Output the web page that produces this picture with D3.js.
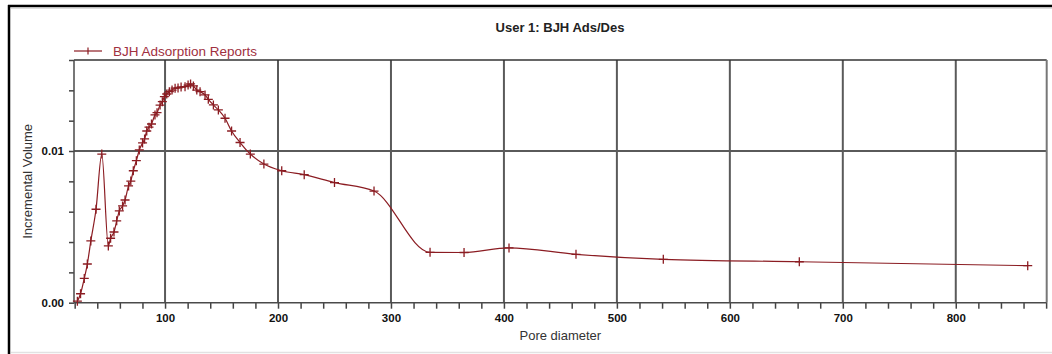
<!DOCTYPE html>
<html>
<head>
<meta charset="utf-8">
<script src="https://cdn.jsdelivr.net/npm/d3@7"></script>
<style>
  body { margin: 0; background: #fff; }
  svg { display: block; font-family: "Liberation Sans", Arial, sans-serif; }
</style>
</head>
<body>
<svg id="bjh-chart"></svg>
<script>
// values (pore diameter vs incremental volume)
var poreDiameter = [22.4, 25.2, 28.5, 31.2, 34.3, 38.9, 44.0, 49.8, 51.8, 54.8,
  57.2, 59.5, 62.4, 64.6, 67.7, 69.7, 71.9, 74.6, 77.2, 80.1,
  81.9, 83.8, 85.8, 88.0, 91.1, 92.9, 95.6, 97.6, 99.4, 101.5,
  103.8, 106.2, 108.9, 111.5, 114.2, 117.7, 120.4, 122.6, 125.1, 128.1,
  131.0, 135.4, 138.3, 142.8, 147.2, 153.1, 158.9, 166.4, 175.5, 187.5,
  203.3, 223.2, 250.0, 285.0, 334.6, 364.7, 404.5, 463.8, 541.1, 661.5,
  863.7];
var incVolume = [0.0001, 0.00059, 0.0016, 0.00255, 0.00407, 0.00616, 0.0098, 0.00374, 0.00425, 0.00466,
  0.0054, 0.00605, 0.00638, 0.00677, 0.0077, 0.00802, 0.0087, 0.00936, 0.01007, 0.01053,
  0.0108, 0.01132, 0.01157, 0.01178, 0.01238, 0.01253, 0.01303, 0.01325, 0.01358, 0.01376,
  0.01391, 0.01402, 0.01414, 0.01416, 0.01422, 0.01424, 0.01435, 0.01442, 0.01429, 0.01402,
  0.01391, 0.0137, 0.01341, 0.01304, 0.01271, 0.01216, 0.01132, 0.01056, 0.0098, 0.00914,
  0.0087, 0.00844, 0.00792, 0.00736, 0.00332, 0.00331, 0.00361, 0.00319, 0.00286, 0.0027,
  0.00244];
var xMajorTicks = [100, 200, 300, 400, 500, 600, 700, 800];
var yLabelTicks = [0, 0.01];
var seriesName = "BJH Adsorption Reports";
var chartTitle = "User 1: BJH Ads/Des";

var W = 1052, H = 354;
var margin = {top: 60, right: 5.3, bottom: 51.3, left: 74},
    width = W - margin.left - margin.right,
    height = H - margin.top - margin.bottom;
var lineColor = "#8b1c22";

var points = poreDiameter.map(function(d, i) { return {x: d, y: incVolume[i]}; });

var svg = d3.select("#bjh-chart")
    .attr("width", W)
    .attr("height", H);

// outer window frame
svg.append("path").attr("d", "M8,6H1052").attr("stroke", "#000").attr("stroke-width", 2.5);
svg.append("path").attr("d", "M9,5V354").attr("stroke", "#000").attr("stroke-width", 2.5);
svg.append("path").attr("d", "M11,8.5H1052").attr("stroke", "#ddd").attr("stroke-width", 1);
svg.append("path").attr("d", "M11,352.5H1052").attr("stroke", "#e2e2e2").attr("stroke-width", 1.5);

var g = svg.append("g")
    .attr("transform", "translate(" + margin.left + "," + margin.top + ")");

var x = d3.scaleLinear()
    .domain([19.4, 880.5])
    .range([0, width]);
var y = d3.scaleLinear()
    .domain([0, 0.016])
    .range([height, 0]);

// grid lines
g.selectAll(".vgrid")
    .data(xMajorTicks)
    .enter().append("line")
    .attr("x1", function(d) { return x(d); })
    .attr("x2", function(d) { return x(d); })
    .attr("y1", 0)
    .attr("y2", height)
    .attr("stroke", "#5a5a5a")
    .attr("stroke-width", 2);
g.append("line")
    .attr("x1", 0).attr("x2", width)
    .attr("y1", y(0.01)).attr("y2", y(0.01))
    .attr("stroke", "#5a5a5a")
    .attr("stroke-width", 2);

// x axis: minor ticks every 20, labels every 100
var xAxis = g.append("g")
    .attr("transform", "translate(0," + height + ")")
    .call(d3.axisBottom(x)
        .tickValues(d3.range(20, 881, 20))
        .tickSize(6)
        .tickFormat(function(d) { return d % 100 === 0 ? d : ""; }));
xAxis.select(".domain").remove();
xAxis.selectAll(".tick line").attr("stroke", "#444").attr("stroke-width", 1.5);
xAxis.selectAll(".tick text")
    .attr("y", 11)
    .attr("fill", "#111")
    .style("font-size", "11.5px")
    .style("font-weight", "bold");

// y axis: ticks every 0.002, labels only at 0.00 and 0.01
var yAxis = g.append("g")
    .call(d3.axisLeft(y)
        .tickValues(d3.range(0, 0.0161, 0.002))
        .tickSize(5)
        .tickFormat(function(d) {
            return yLabelTicks.some(function(v) { return Math.abs(v - d) < 1e-9; }) ? d3.format(".2f")(d) : "";
        }));
yAxis.select(".domain").remove();
yAxis.selectAll(".tick line").attr("stroke", "#444").attr("stroke-width", 1.5);
yAxis.selectAll(".tick text")
    .attr("x", -10)
    .attr("fill", "#111")
    .style("font-size", "11.5px")
    .style("font-weight", "bold");

// plot box
g.append("line").attr("x1", 0).attr("x2", width).attr("y1", 0).attr("y2", 0)
    .attr("stroke", "#333").attr("stroke-width", 1.5);
g.append("line").attr("x1", width).attr("x2", width).attr("y1", 0).attr("y2", height)
    .attr("stroke", "#777").attr("stroke-width", 2);
g.append("line").attr("x1", 0).attr("x2", 0).attr("y1", 0).attr("y2", height)
    .attr("stroke", "#4a4a4a").attr("stroke-width", 1.5);
g.append("line").attr("x1", 0).attr("x2", width).attr("y1", height).attr("y2", height)
    .attr("stroke", "#4a4a4a").attr("stroke-width", 1.5);

// the curve
var line = d3.line()
    .x(function(d) { return x(d.x); })
    .y(function(d) { return y(d.y); })
    .curve(d3.curveMonotoneX);
g.append("path")
    .datum(points)
    .attr("fill", "none")
    .attr("stroke", lineColor)
    .attr("stroke-width", 1.2)
    .attr("d", line);

// "+" markers
var cross = "M-4.5,0H4.5M0,-4.5V4.5";
g.selectAll(".marker")
    .data(points)
    .enter().append("path")
    .attr("class", "marker")
    .attr("transform", function(d) { return "translate(" + x(d.x) + "," + y(d.y) + ")"; })
    .attr("d", cross)
    .attr("fill", "none")
    .attr("stroke", lineColor)
    .attr("stroke-width", 1.3);

// legend
var legend = svg.append("g");
legend.append("line")
    .attr("x1", 74).attr("x2", 102).attr("y1", 51).attr("y2", 51)
    .attr("stroke", lineColor).attr("stroke-width", 1.2);
legend.append("line")
    .attr("x1", 88).attr("x2", 88).attr("y1", 47.5).attr("y2", 54.5)
    .attr("stroke", lineColor).attr("stroke-width", 1.2);
legend.append("text")
    .attr("x", 113).attr("y", 55.5)
    .attr("fill", "#a03040")
    .style("font-size", "13.5px")
    .text(seriesName);

// titles
svg.append("text")
    .attr("x", 560).attr("y", 31.5)
    .attr("text-anchor", "middle")
    .attr("fill", "#222")
    .style("font-size", "13px")
    .style("font-weight", "bold")
    .text(chartTitle);
svg.append("text")
    .attr("x", margin.left + width / 2).attr("y", 340)
    .attr("text-anchor", "middle")
    .attr("fill", "#333")
    .style("font-size", "13px")
    .text("Pore diameter");
svg.append("text")
    .attr("transform", "translate(32," + (margin.top + height / 2) + ") rotate(-90)")
    .attr("text-anchor", "middle")
    .attr("fill", "#333")
    .style("font-size", "13px")
    .text("Incremental Volume");
</script>
</body>
</html>
